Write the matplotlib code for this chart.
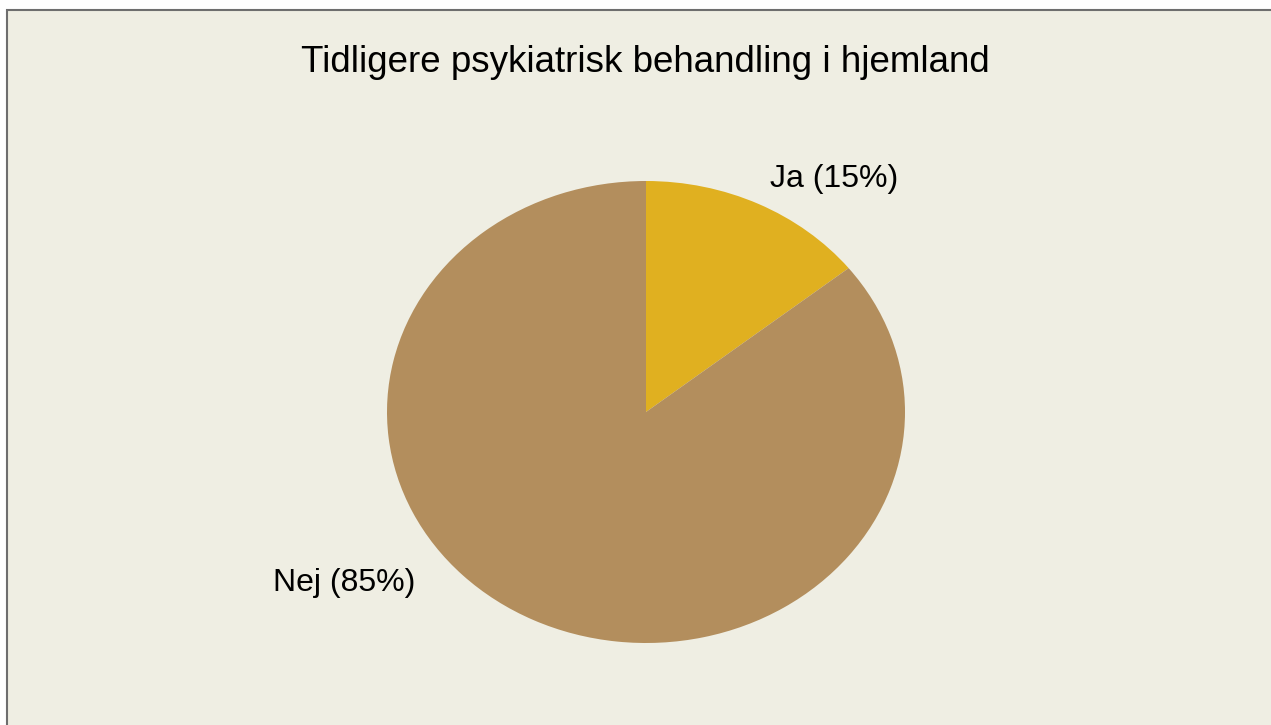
import matplotlib
matplotlib.use("Agg")
import matplotlib.pyplot as plt
from matplotlib.patches import Rectangle

plt.rcParams['font.family'] = ['Liberation Sans', 'DejaVu Sans']

labels = ['Ja', 'Nej']
values = [14.3, 85.7]        # wedge sizes as drawn
label_pct = [15, 85]         # percentages as printed on the chart
colors = ['#E0B020', '#B38E5D']
title = 'Tidligere psykiatrisk behandling i hjemland'

fig = plt.figure(figsize=(12.71, 7.25), dpi=100)
fig.patch.set_facecolor('white')

# panel background with grey top/left border
bg = Rectangle((7 / 1271, -0.01), 1.02, 1 - 10 / 725 + 0.01, transform=fig.transFigure,
               facecolor='#EFEEE3', edgecolor='#6E6E6E', linewidth=1.5, zorder=-5)
fig.add_artist(bg)

fig.text(0.5075, 1 - 63 / 725, title, ha='center', va='center', fontsize=26.5, color='black')

ax = fig.add_axes([387 / 1271, (725 - 643) / 725, 518 / 1271, 462 / 725])
ax.set_zorder(2)
ax.patch.set_visible(False)
ax.pie(values, colors=colors, startangle=90, counterclock=False,
       wedgeprops=dict(linewidth=0))
ax.set_aspect('auto')
ax.set_xlim(-1, 1)
ax.set_ylim(-1, 1)
ax.axis('off')

pct = [f'{lab} ({p}%)' for lab, p in zip(labels, label_pct)]
ax.text(0.478, 1.01, pct[0], ha='left', va='center', fontsize=23)
ax.text(-0.89, -0.74, pct[1], ha='right', va='center', fontsize=23)

fig.savefig('out.png', dpi=100)
